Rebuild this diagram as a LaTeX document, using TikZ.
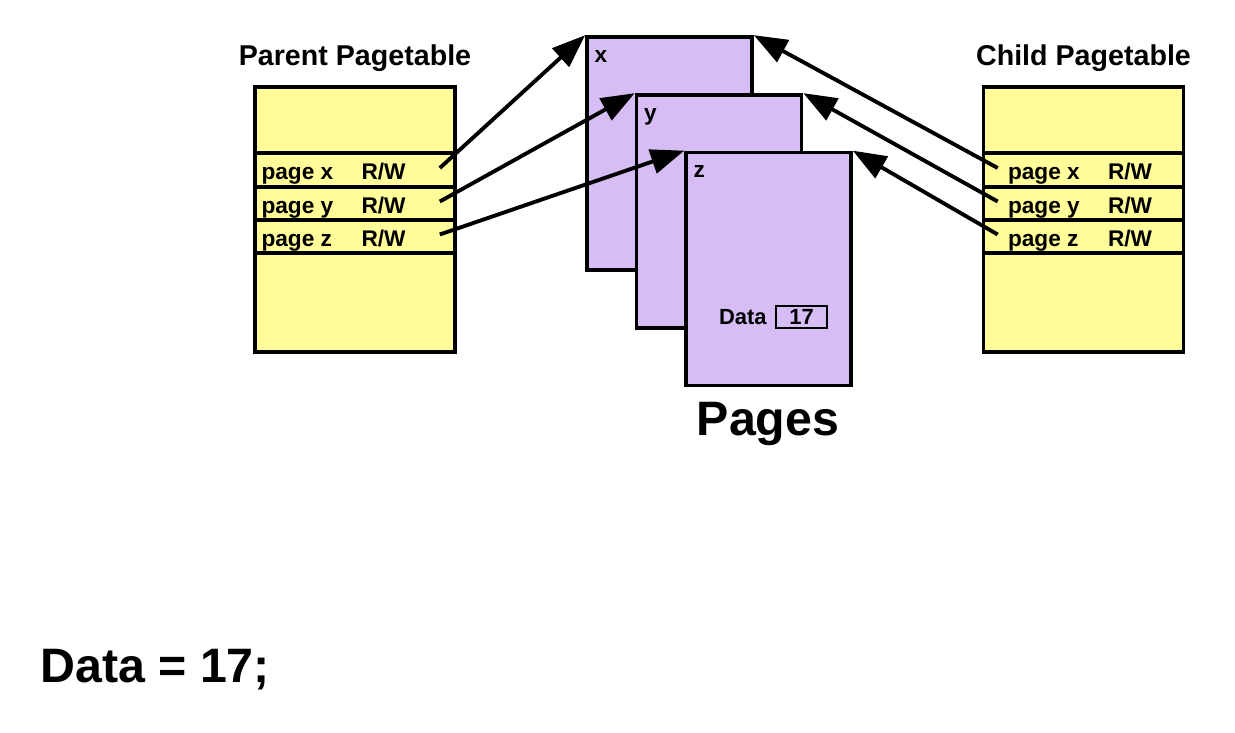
\documentclass[tikz,border=0pt]{standalone}
\usepackage{fontspec}
\setmainfont{Liberation Sans}
\usepackage{xcolor}
\usepackage{tikz}
\usetikzlibrary{arrows.meta}
\usetikzlibrary{calc}
\definecolor{tabyellow}{RGB}{255,252,153}
\definecolor{pagepurple}{RGB}{214,190,245}
\tikzstyle{tablebox} = [draw, line width=2.1pt, fill=tabyellow, minimum width=4cm, minimum height=5.3cm, inner sep=0]
\tikzstyle{rowbox} = [draw, line width=2.1pt, fill=tabyellow, minimum width=4cm, minimum height=0.667cm, inner sep=0]
\tikzstyle{pagebox} = [draw, line width=2.1pt, fill=pagepurple, minimum width=3.3cm, minimum height=4.66cm, inner sep=0]
\tikzstyle{entry} = [font=\bfseries\fontsize{12.9}{15}\selectfont, inner sep=0, anchor=base west]
\tikzstyle{heading} = [font=\bfseries\fontsize{16.3}{19}\selectfont, inner sep=0, anchor=base]
\tikzstyle{big} = [font=\bfseries\fontsize{27.5}{32}\selectfont, inner sep=0]
\tikzstyle{ptr} = [line width=2.2pt, -{Triangle[length=19pt, width=14pt]}]

\begin{document}
\begin{tikzpicture}[x=0.02cm, y=-0.02cm]
	\useasboundingbox (0,0) rectangle (1235,733);

	% parent pagetable
	\node[heading] (ptitle) at (355,66) {Parent Pagetable};
	\node[tablebox] (ptab) at (355,219.5) {};
	\node[rowbox] (px) at (355,170) {};
	\node[rowbox] (py) at (355,203.5) {};
	\node[rowbox] (pz) at (355,236.5) {};
	\node[entry] (pxl) at ($(px.west)+(8,10)$) {page x};
	\node[entry] (pyl) at ($(py.west)+(8,10)$) {page y};
	\node[entry] (pzl) at ($(pz.west)+(8,10)$) {page z};
	\node[entry] (pxr) at ($(px.west)+(108,10)$) {R/W};
	\node[entry] (pyr) at ($(py.west)+(108,10)$) {R/W};
	\node[entry] (pzr) at ($(pz.west)+(108,10)$) {R/W};

	% child pagetable
	\node[heading] (ctitle) at (1083.5,66) {Child Pagetable};
	\node[tablebox] (ctab) at (1083.5,219.5) {};
	\node[rowbox] (cx) at (1083.5,170) {};
	\node[rowbox] (cy) at (1083.5,203.5) {};
	\node[rowbox] (cz) at (1083.5,236.5) {};
	\node[entry] (cxl) at ($(cx.west)+(26,10)$) {page x};
	\node[entry] (cyl) at ($(cy.west)+(26,10)$) {page y};
	\node[entry] (czl) at ($(cz.west)+(26,10)$) {page z};
	\node[entry] (cxr) at ($(cx.west)+(126,10)$) {R/W};
	\node[entry] (cyr) at ($(cy.west)+(126,10)$) {R/W};
	\node[entry] (czr) at ($(cz.west)+(126,10)$) {R/W};

	% pages
	\node[pagebox] (pgx) at (669.5,153.5) {};
	\node[entry] at ($(pgx.north west)+(9,27)$) {x};
	\node[pagebox] (pgy) at (719,211.5) {};
	\node[entry] at ($(pgy.north west)+(9,27)$) {y};
	\node[pagebox] (pgz) at (768.5,269) {};
	\node[entry] at ($(pgz.north west)+(9,27)$) {z};
	\node[draw, line width=1.1pt, minimum width=1.02cm, minimum height=0.44cm, inner sep=0,
		font=\bfseries\fontsize{12.5}{15}\selectfont] (dbox) at (801.5,317) {17};
	\node[font=\bfseries\fontsize{12.5}{15}\selectfont, inner sep=0, anchor=base east] (dlabel)
		at ($(dbox.west)+(-8,8)$) {Data};
	\node[big, anchor=base] (pages) at (768,436) {Pages};

	% pointers
	\coordinate (pxt) at ($(px.east)+(-17,-2)$);
	\coordinate (pyt) at ($(py.east)+(-17,-2)$);
	\coordinate (pzt) at ($(pz.east)+(-17,-2)$);
	\coordinate (cxt) at ($(cx.west)+(16,-2)$);
	\coordinate (cyt) at ($(cy.west)+(16,-2)$);
	\coordinate (czt) at ($(cz.west)+(16,-2)$);
	\draw[ptr] (pxt) -- (pgx.north west);
	\draw[ptr] (pyt) -- (pgy.north west);
	\draw[ptr] (pzt) -- (pgz.north west);
	\draw[ptr] (cxt) -- (pgx.north east);
	\draw[ptr] (cyt) -- (pgy.north east);
	\draw[ptr] (czt) -- (pgz.north east);

	\node[big, anchor=base west] (code) at (40,682) {Data = 17;};
\end{tikzpicture}
\end{document}
